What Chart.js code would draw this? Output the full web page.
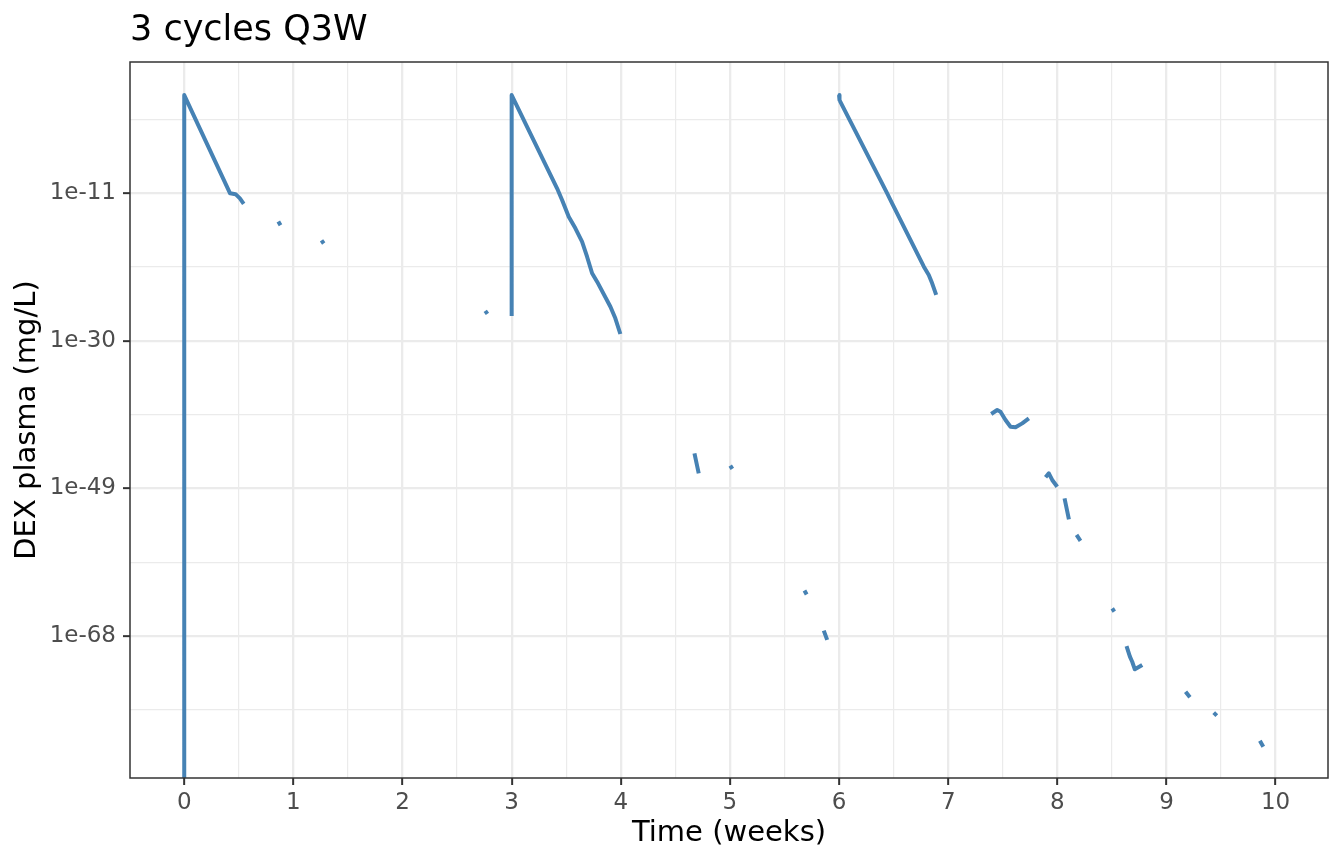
<!DOCTYPE html>
<html>
<head>
<meta charset="utf-8">
<script src="https://cdn.jsdelivr.net/npm/chart.js@4"></script>
<style>
  html, body { margin: 0; padding: 0; background: #fff; }
  canvas { display: block; }
</style>
</head>
<body>
<canvas id="chart" width="1344" height="864"></canvas>
<script>
// simulated DEX plasma concentration, null = gap in the curve
const weeks = [
  0, 0, 0.42, 0.47, 0.51, 0.545, null,
  0.862, 0.882, null,
  1.258, 1.278, null,
  2.758, 2.778, null,
  3, 3, 3.416, 3.462, 3.523, 3.584, 3.645, 3.691, 3.737, 3.783, 3.905, 3.95, 3.996, null,
  4.675, 4.714, null,
  5.003, 5.022, null,
  5.683, 5.703, null,
  5.86, 5.891, null,
  6.0, 6.004, 6.441, 6.486, 6.777, 6.822, 6.853, 6.89, null,
  7.394, 7.449, 7.479, 7.525, 7.571, 7.617, 7.678, 7.739, null,
  7.892, 7.922, 7.953, 7.999, null,
  8.066, 8.106, null,
  8.176, 8.212, null,
  8.503, 8.522, null,
  8.634, 8.665, 8.686, 8.71, 8.778, null,
  9.175, 9.215, null,
  9.433, 9.461, null,
  9.856, 9.887
];
const dexPlasma = [
  0, 40, 9.1e-12, 7.1e-12, 2.0e-12, 4.0e-13, null,
  2.2e-15, 7e-16, null,
  8e-18, 3.2e-18, null,
  7e-27, 2.8e-27, null,
  1.5e-27, 40, 4.0e-11, 1.26e-12, 8.9e-15, 2.9e-16, 5.4e-18, 6.3e-20, 4.7e-22, 3.9e-23, 2.3e-26, 7.6e-28, 7.2e-30, null,
  3.2e-45, 8.5e-48, null,
  8.5e-47, 3.2e-47, null,
  7e-63, 2.2e-63, null,
  5.0e-68, 3.2e-69, null,
  40, 9, 9.1e-12, 4.7e-13, 3.3e-21, 2.8e-22, 2.4e-23, 7.6e-25, null,
  3.7e-40, 1.2e-39, 7.2e-40, 6.2e-41, 8.5e-42, 7.1e-42, 2.3e-41, 1.0e-40, null,
  2.6e-48, 8.5e-48, 1.2e-48, 1.6e-49, null,
  5.2e-51, 1.0e-53, null,
  1.0e-55, 1.8e-56, null,
  3.5e-65, 1.4e-65, null,
  5.1e-70, 2.2e-71, 4.9e-72, 5.2e-73, 1.9e-72, null,
  6.8e-76, 1.3e-76, null,
  1.4e-78, 5.8e-79, null,
  3.4e-82, 5.8e-83
];

const xMajorTicks = [0, 1, 2, 3, 4, 5, 6, 7, 8, 9, 10];
const xMinorTicks = [0.5, 1.5, 2.5, 3.5, 4.5, 5.5, 6.5, 7.5, 8.5, 9.5];
const yMajorExps = [-68, -49, -30, -11];
const yMinorExps = [-77.5, -58.5, -39.5, -20.5, -1.5];

const X_MIN = -0.497, X_MAX = 10.48;
const Y_MIN = Math.pow(10, -86.27), Y_MAX = Math.pow(10, 5.855);

const FONT = "'DejaVu Sans', 'Liberation Sans', sans-serif";
Chart.defaults.font.family = FONT;

// ggplot draws log(0) at the panel floor
const points = weeks.map((w, i) => ({
  x: w,
  y: dexPlasma[i] === 0 ? Y_MIN : dexPlasma[i]
}));

function gridWidth(ctx) {
  return ctx.tick && ctx.tick.isMajor ? 2.3 : 1.2;
}
function tickColor(ctx) {
  return ctx.tick && ctx.tick.isMajor ? '#333333' : 'rgba(0,0,0,0)';
}

const panelBorder = {
  id: 'panelBorder',
  afterDatasetsDraw(chart) {
    const {ctx, chartArea: a} = chart;
    ctx.save();
    ctx.strokeStyle = '#333333';
    ctx.lineWidth = 1.5;
    ctx.strokeRect(a.left, a.top, a.right - a.left, a.bottom - a.top);
    ctx.restore();
  }
};

new Chart(document.getElementById('chart'), {
  type: 'line',
  data: {
    datasets: [{
      data: points,
      borderColor: '#4682B4',
      borderWidth: 4,
      pointRadius: 0,
      tension: 0,
      spanGaps: false,
      borderJoinStyle: 'round',
      borderCapStyle: 'butt'
    }]
  },
  options: {
    responsive: false,
    animation: false,
    layout: {padding: {left: 0, right: 16, top: 0, bottom: 0}},
    plugins: {
      legend: {display: false},
      tooltip: {enabled: false},
      title: {
        display: true,
        text: '3 cycles Q3W',
        align: 'start',
        fullSize: false,
        color: '#000000',
        font: {size: 35, weight: 'normal'},
        padding: {top: 10, bottom: 10}
      }
    },
    scales: {
      x: {
        type: 'linear',
        min: X_MIN,
        max: X_MAX,
        afterBuildTicks(scale) {
          scale.ticks = xMajorTicks.map(v => ({value: v, isMajor: true}))
            .concat(xMinorTicks.map(v => ({value: v, isMajor: false})))
            .sort((a, b) => a.value - b.value);
        },
        afterFit(scale) { scale.height = 86; },
        ticks: {
          autoSkip: false,
          maxRotation: 0,
          color: '#4D4D4D',
          font: {size: 23},
          padding: 4,
          callback: (v, i, ticks) => ticks[i].isMajor ? String(v) : ''
        },
        grid: {
          color: '#EBEBEB',
          lineWidth: gridWidth,
          tickColor: tickColor,
          tickWidth: 2,
          tickLength: 7
        },
        border: {display: false},
        title: {
          display: true,
          text: 'Time (weeks)',
          color: '#000000',
          font: {size: 29},
          padding: {top: 0, bottom: 13}
        }
      },
      y: {
        type: 'logarithmic',
        min: Y_MIN,
        max: Y_MAX,
        afterBuildTicks(scale) {
          scale.ticks = yMajorExps.map(e => ({value: Math.pow(10, e), isMajor: true, exp: e}))
            .concat(yMinorExps.map(e => ({value: Math.pow(10, e), isMajor: false, exp: e})))
            .sort((a, b) => a.exp - b.exp);
        },
        afterFit(scale) { scale.width = 130; },
        ticks: {
          autoSkip: false,
          color: '#4D4D4D',
          font: {size: 23},
          padding: 7,
          callback: (v, i, ticks) => ticks[i].isMajor ? '1e' + ticks[i].exp : ''
        },
        grid: {
          color: '#EBEBEB',
          lineWidth: gridWidth,
          tickColor: tickColor,
          tickWidth: 2,
          tickLength: 7
        },
        border: {display: false},
        title: {
          display: true,
          text: 'DEX plasma (mg/L)',
          color: '#000000',
          font: {size: 29},
          padding: {top: 10, bottom: 0}
        }
      }
    }
  },
  plugins: [panelBorder]
});
</script>
</body>
</html>
